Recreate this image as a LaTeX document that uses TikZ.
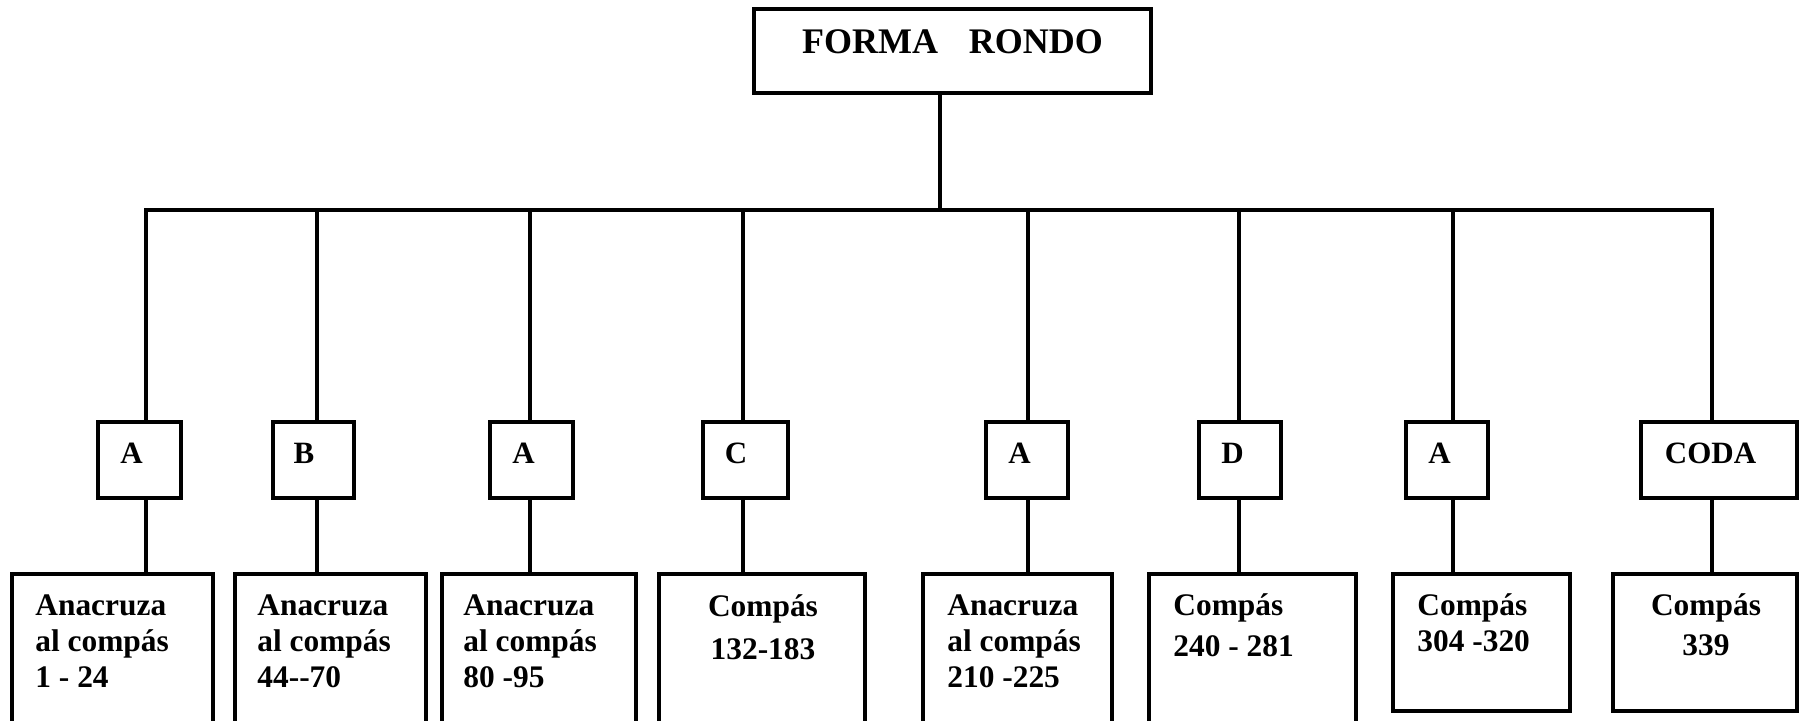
\documentclass[tikz,border=0pt]{standalone}
\usepackage{fontspec}
\setmainfont{Liberation Serif}
\begin{document}
\begin{tikzpicture}[x=0.5pt,y=-0.5pt,
  panel/.style 2 args={draw=black, line width=1.6pt, inner sep=0pt,
    minimum width=#1*0.5pt, minimum height=#2*0.5pt},
  wire/.style={draw=black, line width=1.6pt},
  lbl/.style={inner sep=0pt, anchor=base west,
    font=\bfseries\fontsize{15.7}{18}\selectfont},
  clbl/.style={lbl, anchor=base},
  tag/.style={inner sep=0pt, anchor=base,
    font=\bfseries\fontsize{15.5}{18}\selectfont},
  title/.style={inner sep=0pt, anchor=base,
    font=\bfseries\fontsize{18}{21}\selectfont}]
\useasboundingbox (0,0) rectangle (1803,721);
\clip (0,0) rectangle (1803,721);

% root
\node[panel={397}{84}] (top) at (952.5,51) {};
\node[title] (toptxt) at (952.5,54) {FORMA\hspace*{15.5pt}RONDO};

% section boxes
\node[panel={83}{76}]  (s1) at (139.5,460) {};
\node[panel={81}{76}]  (s2) at (313.5,460) {};
\node[panel={83}{76}]  (s3) at (531.5,460) {};
\node[panel={85}{76}]  (s4) at (745.5,460) {};
\node[panel={82}{76}]  (s5) at (1027,460) {};
\node[panel={82}{76}]  (s6) at (1240,460) {};
\node[panel={82}{76}]  (s7) at (1447,460) {};
\node[panel={156}{76}] (s8) at (1719,460) {};

\node[tag] (l1) at (131.5,463) {A};
\node[tag] (l2) at (304,463) {B};
\node[tag] (l3) at (523.5,463) {A};
\node[tag] (l4) at (736,463) {C};
\node[tag] (l5) at (1019.5,463) {A};
\node[tag] (l6) at (1232.5,463) {D};
\node[tag] (l7) at (1439.5,463) {A};
\node[tag] (l8) at (1710.5,463) {CODA};

% bar measure boxes
\node[panel={201}{186}] (b1) at (112.5,667) {};
\node[panel={191}{186}] (b2) at (330.5,667) {};
\node[panel={194}{186}] (b3) at (539,667) {};
\node[panel={206}{186}] (b4) at (762,667) {};
\node[panel={189}{186}] (b5) at (1017.5,667) {};
\node[panel={207}{186}] (b6) at (1252.5,667) {};
\node[panel={177}{137}] (b7) at (1481.5,642.5) {};
\node[panel={184}{137}] (b8) at (1705,642.5) {};

\foreach \n/\x/\y/\t in {
    1a/35/615/{Anacruza}, 1b/35/651/{al compás}, 1c/35/687/{1 - 24},
    2a/257/615/{Anacruza}, 2b/257/651/{al compás}, 2c/257/687/{44-{}-70},
    3a/463/615/{Anacruza}, 3b/463/651/{al compás}, 3c/463/687/{80 -95},
    5a/947/615/{Anacruza}, 5b/947/651/{al compás}, 5c/947/687/{210 -225},
    6a/1173/615/{Compás}, 6b/1173/656/{240 - 281},
    7a/1417/615/{Compás}, 7b/1417/651/{304 -320}}
  \node[lbl] (t\n) at (\x,\y) {\t};
\foreach \n/\x/\y/\t in {
    4a/763/616/{Compás}, 4b/763/659/{132-183},
    8a/1706/615/{Compás}, 8b/1706/655/{339}}
  \node[clbl] (t\n) at (\x,\y) {\t};

% junctions on the horizontal bar
\coordinate (j0) at (940,210);
\coordinate (j1) at (146,210);
\coordinate (j2) at (317,210);
\coordinate (j3) at (530,210);
\coordinate (j4) at (743,210);
\coordinate (j5) at (1028,210);
\coordinate (j6) at (1239,210);
\coordinate (j7) at (1453,210);
\coordinate (j8) at (1712,210);

\draw[wire] (top.south -| j0) -- (j0);
\draw[wire] (s1.north -| j1) -- (j1) -- (j8) -- (s8.north -| j8);
\foreach \i in {2,...,7}
  \draw[wire] (j\i) -- (s\i.north -| j\i);
\foreach \i in {1,...,8}
  \draw[wire] (s\i.south -| j\i) -- (b\i.north -| j\i);
\end{tikzpicture}
\end{document}
